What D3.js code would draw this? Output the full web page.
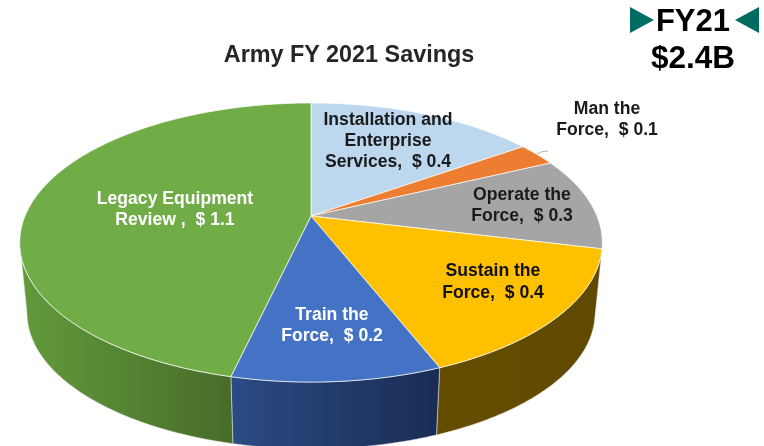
<!DOCTYPE html>
<html><head><meta charset="utf-8">
<script src="https://cdn.jsdelivr.net/npm/d3@7"></script>
<style>html,body{margin:0;padding:0;background:#fff;overflow:hidden}svg{display:block;filter:blur(0.35px)}text{font-family:"Liberation Sans",Arial,sans-serif;font-weight:700}</style>
</head><body><svg id="c" width="764" height="446"></svg>
<script>
// Data (slice sizes in $B; labels carry the rounded values)
const categories = ["Installation and Enterprise Services","Man the Force","Operate the Force","Sustain the Force","Train the Force","Legacy Equipment Review"];
const savings = [0.368,0.064,0.258,0.365,0.233,1.112];
const labelLines = [["Installation and","Enterprise","Services,  $ 0.4"],["Man the","Force,  $ 0.1"],["Operate the","Force,  $ 0.3"],["Sustain the","Force,  $ 0.4"],["Train the","Force,  $ 0.2"],["Legacy Equipment","Review ,  $ 1.1"]];
const topColors = ["#BDD7EE","#ED7D31","#A5A5A5","#FFC000","#4472C4","#70AD47"];
const sideFrom = ["#7f96a8","#a05520","#6f6f6f","#654d00","#2b4b84","#629a3c"];
const sideTo = ["#7f96a8","#a05520","#6f6f6f","#604900","#1a2c54","#486c29"];
const labelColors = ["#1a1a1a","#1a1a1a","#1a1a1a","#111","#fff","#fff"];
const chartTitle = "Army FY 2021 Savings";
const totalLines = ["FY21","$2.4B"];

// Layout
const labelPos = [[388,125,21],[607,114,20.5],[522,200,20.5],[493,276,22],[332,320,21],[175,204,21]];
const svg = d3.select("#c");
const k = -0.19;
const project = (cx,cy,a,b) => t => { const x=Math.sin(t), y=-Math.cos(t), w=1+k*y; return [cx+a*x/w, cy+b*y/w]; };
const topRim = project(311,216,286,134.5);
const botRim = project(311,287,286*0.975,134.5*0.975);
const arcs = d3.pie().sort(null).value(d=>d)(savings);
const line = d3.line();
const samples = (s,e,f) => d3.range(0,61).map(i=>f(s+(e-s)*i/60));
const visFrom = 102.5*Math.PI/180, visTo = 259*Math.PI/180;

const defs = svg.append("defs");
arcs.forEach((d,i)=>{
  const s=Math.max(d.startAngle,visFrom), e=Math.min(d.endAngle,visTo);
  if(e-s<0.05) return;
  const g=defs.append("linearGradient").attr("id","side"+i);
  g.append("stop").attr("offset",0).attr("stop-color",sideFrom[i]);
  g.append("stop").attr("offset",1).attr("stop-color",sideTo[i]);
  const pts=samples(s,e,topRim).concat(samples(e,s,botRim));
  svg.append("path").attr("d",line(pts)+"Z").attr("fill",`url(#side${i})`)
    .attr("stroke","#e8e8e8").attr("stroke-width",0.7).attr("stroke-opacity",0.75);
});
arcs.forEach((d,i)=>{
  const pts=[[311,216]].concat(samples(d.startAngle,d.endAngle,topRim));
  svg.append("path").attr("d",line(pts)+"Z").attr("fill",topColors[i])
    .attr("stroke","#fff").attr("stroke-width",0.9).attr("stroke-opacity",0.8).attr("stroke-linejoin","round");
});

// Leader line for the small slice
svg.append("path").attr("d","M537,154Q541,151 548,151").attr("fill","none").attr("stroke","#b5b5b5").attr("stroke-width",1);

labelLines.forEach((ls,i)=>{
  const [x,y,h]=labelPos[i];
  ls.forEach((t,j)=>svg.append("text").attr("x",x).attr("y",y+j*h).attr("text-anchor","middle")
    .attr("font-size",17.6).attr("fill",labelColors[i]).style("white-space","pre").text(t));
});

svg.append("text").attr("x",349).attr("y",62).attr("text-anchor","middle").attr("font-size",23.4).attr("fill","#262626").text(chartTitle);
svg.append("text").attr("x",693).attr("y",31).attr("text-anchor","middle").attr("font-size",31).attr("fill","#000").text(totalLines[0]);
svg.append("text").attr("x",693).attr("y",68).attr("text-anchor","middle").attr("font-size",31.5).attr("fill","#000").text(totalLines[1]);
svg.append("path").attr("d","M630,7L654,20L630,33Z").attr("fill","#006B60");
svg.append("path").attr("d","M759,7L735,20L759,33Z").attr("fill","#006B60");
</script></body></html>
